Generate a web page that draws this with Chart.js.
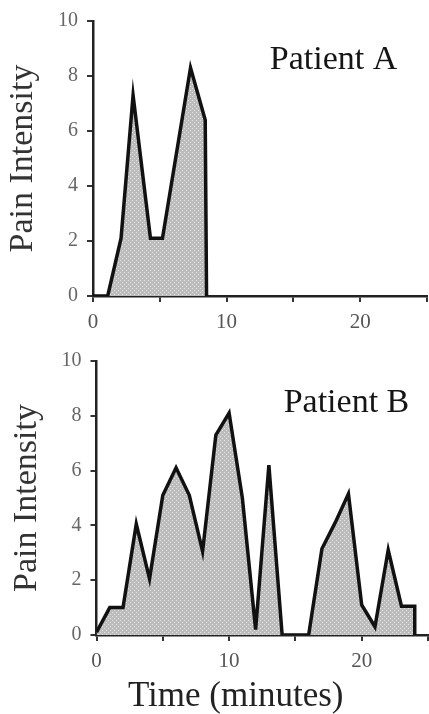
<!DOCTYPE html>
<html>
<head>
<meta charset="utf-8">
<script src="https://cdn.jsdelivr.net/npm/chart.js@4/dist/chart.umd.min.js"></script>
<style>
  html, body { margin: 0; padding: 0; background: #fff; overflow: hidden; width: 429px; height: 714px; }
  #wrapA { position: absolute; left: 0; top: 0; }
  #wrapB { position: absolute; left: 0; top: 340px; }
</style>
</head>
<body>
<div id="wrapA"><canvas id="chartA" width="435" height="340"></canvas></div>
<div id="wrapB"><canvas id="chartB" width="436" height="374"></canvas></div>
<script>
// ---- data ----
const timesA = [0, 1.1, 2.1, 3.0, 4.3, 5.2, 7.3, 8.4, 8.5];
const painA  = [0, 0, 2.1, 7.3, 2.1, 2.1, 8.3, 6.4, 0];

const timesB = [0, 1, 2, 3, 4, 5, 6, 7, 8, 9, 10, 11, 12, 13, 14, 15, 16, 17, 18, 19, 20, 21, 22, 23, 24, 24];
const painB  = [0.1, 1, 1, 4.05, 2.05, 5.1, 6.1, 5.1, 3.05, 7.3, 8.1, 5.0, 0.2, 6.2, 0, 0, 0, 3.15, 4.1, 5.15, 1.1, 0.3, 3.1, 1.05, 1.05, 0];

const yTicks = [0, 2, 4, 6, 8, 10];
const xTickLabels = [0, 10, 20];
const xRange = [0, 25];
const yRange = [0, 10];

const labelA = 'Patient A';
const labelB = 'Patient B';
const yTitle = 'Pain Intensity';
const xTitle = 'Time (minutes)';

// ---- stipple fill pattern ----
function makePattern() {
  const c = document.createElement('canvas');
  c.width = 4; c.height = 4;
  const g = c.getContext('2d');
  g.fillStyle = '#bcbcbc';
  g.fillRect(0, 0, 4, 4);
  g.fillStyle = '#e6e6e6';
  g.fillRect(0, 0, 1, 1);
  g.fillRect(2, 2, 1, 1);
  return g.createPattern(c, 'repeat');
}
const stipple = makePattern();

const SERIF = "'Liberation Serif', 'DejaVu Serif', serif";

// plugin that draws panel labels / bottom axis title at data positions
const textPlugin = {
  id: 'panelText',
  afterDraw(chart, args, opts) {
    const ctx = chart.ctx;
    const xs = chart.scales.x, ys = chart.scales.y;
    (opts.items || []).forEach(it => {
      ctx.save();
      ctx.font = it.font;
      ctx.fillStyle = it.color;
      ctx.textAlign = 'center';
      ctx.textBaseline = it.baseline || 'alphabetic';
      const px = xs.getPixelForValue(it.x);
      const py = it.pixelFromBottom !== undefined ? chart.height - it.pixelFromBottom : ys.getPixelForValue(it.y);
      ctx.fillText(it.text, px, py);
      ctx.restore();
    });
  }
};

function makeChart(id, times, pain, geom, items) {
  const pts = times.map((t, i) => ({ x: t, y: pain[i] }));
  return new Chart(document.getElementById(id), {
    type: 'line',
    data: {
      datasets: [{
        data: pts,
        borderColor: '#111',
        borderWidth: 3.5,
        borderJoinStyle: 'miter',
        backgroundColor: stipple,
        fill: 'origin',
        pointRadius: 0,
        tension: 0
      }]
    },
    options: {
      responsive: false,
      animation: false,
      devicePixelRatio: 1,
      layout: { padding: { top: geom.top, right: geom.right, left: 0, bottom: 0 } },
      plugins: {
        legend: { display: false },
        tooltip: { enabled: false },
        panelText: { items: items }
      },
      scales: {
        x: {
          type: 'linear',
          min: xRange[0], max: xRange[1],
          afterFit(s) { s.height = geom.xAxisH; },
          border: { display: true, color: '#222', width: 2.5 },
          grid: { display: true, drawOnChartArea: false, drawTicks: true, tickLength: 6, color: '#333', lineWidth: 2 },
          ticks: {
            stepSize: 5,
            autoSkip: false,
            maxRotation: 0,
            padding: 8,
            color: '#555',
            font: { family: SERIF, size: 21 },
            callback: v => xTickLabels.includes(v) ? String(v) : ''
          },
          title: { display: false }
        },
        y: {
          type: 'linear',
          min: yRange[0], max: yRange[1],
          afterFit(s) { s.width = geom.left; },
          afterBuildTicks(s) { s.ticks = yTicks.map(v => ({ value: v })); },
          border: { display: true, color: '#222', width: 2.5 },
          grid: { display: true, drawOnChartArea: false, drawTicks: true, tickLength: 6, color: '#333', lineWidth: 2 },
          ticks: {
            padding: 9,
            color: '#666',
            font: { family: SERIF, size: 20 }
          },
          title: {
            display: true,
            text: yTitle,
            color: '#333',
            font: { family: SERIF, size: 34, lineHeight: 1.2 },
            padding: { top: geom.titlePad, bottom: 0 }
          }
        }
      }
    },
    plugins: [textPlugin]
  });
}

makeChart('chartA', timesA, painA,
  { left: 93, top: 20, right: 4.5, xAxisH: 44, titlePad: 3 },
  [{ text: labelA, x: 18.0, y: 8.26, font: '34px ' + SERIF, color: '#151515' }]
);

makeChart('chartB', timesB, painB,
  { left: 96.5, top: 16, right: 2, xAxisH: 79, titlePad: 7 },
  [
    { text: labelB, x: 18.85, y: 8.14, font: '34px ' + SERIF, color: '#151515' },
    { text: xTitle, x: 10.5, pixelFromBottom: 17, baseline: 'middle', font: '35px ' + SERIF, color: '#222' }
  ]
);
</script>
</body>
</html>
